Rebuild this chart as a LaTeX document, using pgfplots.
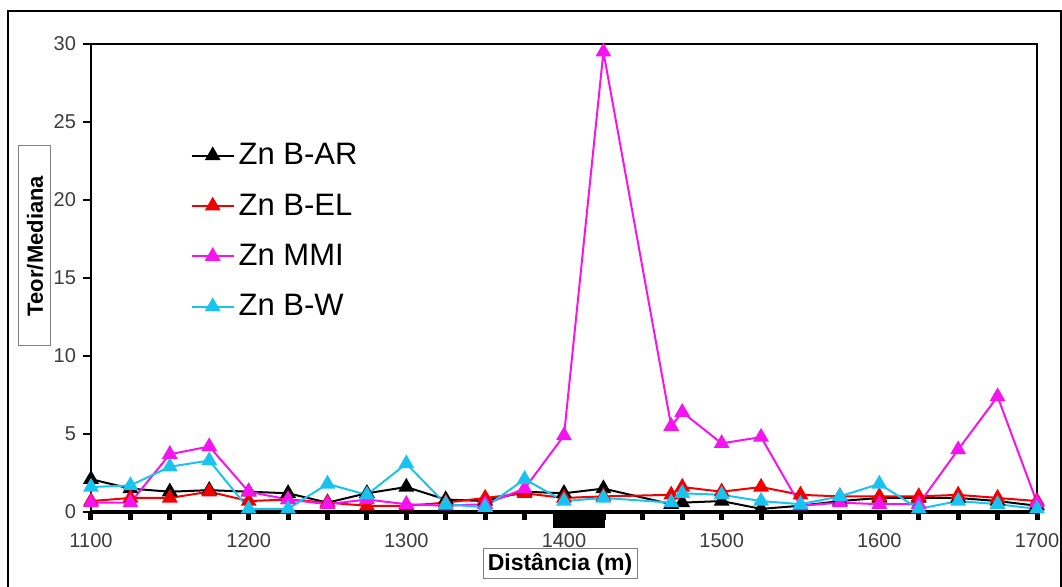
\documentclass[border=0pt]{standalone}
\usepackage{fontspec}
\setmainfont{Liberation Sans}
\usepackage{pgfplots}
\pgfplotsset{compat=1.18}
\definecolor{zcyan}{RGB}{25,195,240}
\definecolor{zmag}{RGB}{245,20,240}
\definecolor{zred}{RGB}{240,0,0}
\definecolor{tickgray}{RGB}{60,60,60}
\begin{document}
\begin{tikzpicture}
\useasboundingbox (-45.5pt,-37.5pt) rectangle (485.5pt,256pt);
\draw[line width=1pt] (-41.5pt,-45pt) -- (-41.5pt,250.5pt) -- (484.8pt,250.5pt) -- (484.8pt,-45pt);
\begin{axis}[
  at={(0pt,0pt)}, anchor=south west,
  scale only axis, width=473pt, height=234pt,
  xmin=1100, xmax=1700, ymin=0, ymax=30,
  xtick={1100,1200,...,1700},
  minor xtick={1125,1150,1175,1225,1250,1275,1325,1350,1375,1425,1450,1475,1525,1550,1575,1625,1650,1675},
  ytick={0,5,...,30},
  tick align=outside, xtick pos=bottom, ytick pos=left,
  major tick length=4pt, minor tick length=4pt,
  every tick/.style={black, line width=1pt},
  x tick style={line width=2.5pt},
  minor x tick style={line width=2.5pt},
  axis line style={line width=1pt},
  tick label style={font=\fontsize{10}{12}\selectfont, text=tickgray},
  /pgf/number format/assume math mode=true,
  /pgf/number format/set thousands separator={},
  xticklabel style={yshift=-3pt},
  clip=false,
  legend style={at={(0.105,0.797)}, anchor=north west, draw=none, fill=none,
    font=\fontsize{15.5}{18}\selectfont, row sep=9pt, inner sep=0pt,
    /tikz/every even column/.append style={column sep=0pt}},
  legend cell align=left,
  legend image code/.code={\draw[mark repeat=2,mark phase=2] plot coordinates {(0pt,0pt) (10.5pt,0pt) (21pt,0pt)};},
  every axis plot/.append style={line width=1pt, mark=triangle*, mark size=3.6pt, mark options={solid}},
]
\draw[line width=2.2pt] (axis cs:1100,0) -- (axis cs:1700,0);
\fill[black] (axis cs:1393,0) rectangle (axis cs:1426,-1.0);
\addplot[black] coordinates {(1100,2.1) (1125,1.5) (1150,1.3) (1175,1.4) (1200,1.3) (1225,1.2) (1250,0.6) (1275,1.2) (1300,1.6) (1325,0.8) (1350,0.7) (1375,1.3) (1400,1.2) (1425,1.5) (1468,0.5) (1475,0.6) (1500,0.7) (1525,0.2) (1550,0.4) (1575,0.7) (1600,0.9) (1625,0.9) (1650,0.9) (1675,0.7) (1700,0.4)};
\addlegendentry{Zn B-AR}
\addplot[zred] coordinates {(1100,0.7) (1125,0.9) (1150,0.9) (1175,1.3) (1200,0.7) (1225,0.8) (1250,0.6) (1275,0.4) (1300,0.4) (1325,0.6) (1350,0.9) (1375,1.2) (1400,0.9) (1425,1.0) (1468,1.1) (1475,1.6) (1500,1.3) (1525,1.6) (1550,1.1) (1575,1.0) (1600,1.0) (1625,1.0) (1650,1.1) (1675,0.9) (1700,0.7)};
\addlegendentry{Zn B-EL}
\addplot[zmag] coordinates {(1100,0.6) (1125,0.6) (1150,3.7) (1175,4.2) (1200,1.3) (1225,0.8) (1250,0.5) (1275,0.8) (1300,0.5) (1325,0.4) (1350,0.5) (1375,1.5) (1400,4.9) (1425,29.5) (1468,5.5) (1475,6.4) (1500,4.4) (1525,4.8) (1550,0.4) (1575,0.6) (1600,0.5) (1625,0.5) (1650,4.0) (1675,7.4) (1700,0.6)};
\addlegendentry{Zn MMI}
\addplot[zcyan] coordinates {(1100,1.6) (1125,1.7) (1150,2.9) (1175,3.3) (1200,0.2) (1225,0.2) (1250,1.8) (1275,1.1) (1300,3.1) (1325,0.5) (1350,0.3) (1375,2.1) (1400,0.7) (1425,0.9) (1468,0.6) (1475,1.2) (1500,1.1) (1525,0.7) (1550,0.5) (1575,1.0) (1600,1.8) (1625,0.2) (1650,0.7) (1675,0.5) (1700,0.2)};
\addlegendentry{Zn B-W}
\end{axis}
\node[draw=gray, line width=0.5pt, fill=white, rotate=90, minimum width=100pt, minimum height=16pt, inner sep=1pt, font=\fontsize{11}{13}\selectfont\bfseries] at (-28pt,133pt) {Teor/Mediana};
\node[draw=gray, line width=0.5pt, fill=white, minimum width=77pt, minimum height=15pt, inner sep=1pt, font=\fontsize{11.5}{13}\selectfont\bfseries] at (234.5pt,-26pt) {Distância (m)};
\end{tikzpicture}
\end{document}
